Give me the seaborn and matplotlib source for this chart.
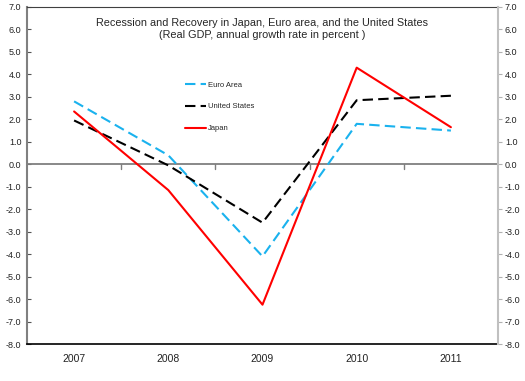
import matplotlib
matplotlib.use("Agg")
import matplotlib.pyplot as plt
import seaborn as sns
import pandas as pd
import numpy as np

years = [2007, 2008, 2009, 2010, 2011]
euro_area = [2.8, 0.4, -4.1, 1.8, 1.5]
united_states = [1.95, -0.05, -2.6, 2.85, 3.05]
japan = [2.35, -1.15, -6.25, 4.3, 1.65]

series_names = ["Euro Area", "United States", "Japan"]
series_colors = ["#1AB2EE", "#000000", "#FF0000"]
y_ticks = np.arange(-8, 8, 1.0)

sns.set_style("white")
plt.rcParams['font.family'] = ['Liberation Sans', 'DejaVu Sans']

df = pd.DataFrame({
    "year": years * 3,
    "growth": euro_area + united_states + japan,
    "series": [series_names[0]] * 5 + [series_names[1]] * 5 + [series_names[2]] * 5,
})

fig = plt.figure(figsize=(5.25, 3.81), dpi=100)
ax = fig.add_axes([27 / 525, 1 - 344 / 381, 471 / 525, 337 / 381])

sns.lineplot(data=df, x="year", y="growth", hue="series", style="series",
             hue_order=series_names, style_order=series_names,
             palette=dict(zip(series_names, series_colors)),
             dashes={"Euro Area": (5, 2.5), "United States": (5, 2.5), "Japan": ""},
             linewidth=1.5, ax=ax)

ax.set_xlim(2006.5, 2011.5)
ax.set_ylim(-8, 7)
ax.set_xticks(years)
ax.set_xticklabels([str(y) for y in years], fontsize=7.5, color="#222222")
ax.set_yticks(y_ticks)
ax.set_yticklabels(["%.1f" % v for v in y_ticks], fontsize=6.5, color="#222222")
ax.tick_params(axis="x", length=0, pad=7)
ax.tick_params(axis="y", direction="in", length=3, color="#555555", pad=4, left=True)
ax.set_xlabel("")
ax.set_ylabel("")

# zero line with category separators
ax.axhline(0, color="#7f7f7f", lw=1.3, zorder=1)
for b in [2007.5, 2008.5, 2009.5, 2010.5]:
    ax.plot([b, b], [0, -0.2], color="#7f7f7f", lw=1, zorder=1)

ax.spines["left"].set_color("#808080")
ax.spines["left"].set_linewidth(1.5)
ax.spines["top"].set_color("#404040")
ax.spines["bottom"].set_color("#000000")
ax.spines["bottom"].set_linewidth(1.2)
ax.spines["right"].set_visible(False)

ax2 = ax.twinx()
ax2.set_ylim(-8, 7)
ax2.set_yticks(y_ticks)
ax2.set_yticklabels(["%.1f" % v for v in y_ticks], fontsize=6.5, color="#222222")
ax2.tick_params(axis="y", direction="out", length=3, color="#b0b0b0", pad=2, right=True)
for s in ["left", "top", "bottom"]:
    ax2.spines[s].set_visible(False)
ax2.spines["right"].set_color("#c0c0c0")
ax2.spines["right"].set_linewidth(1.5)

ax.text(0.5, 0.968, "Recession and Recovery in Japan, Euro area, and the United States\n"
        "(Real GDP, annual growth rate in percent )",
        transform=ax.transAxes, ha="center", va="top", fontsize=7.8, linespacing=1.25)

leg = ax.legend(loc="upper left", bbox_to_anchor=(0.32, 0.80), frameon=False,
                fontsize=5.5, handlelength=2.8, labelspacing=1.9, handletextpad=0.25)

fig.savefig("out.png", dpi=100)
